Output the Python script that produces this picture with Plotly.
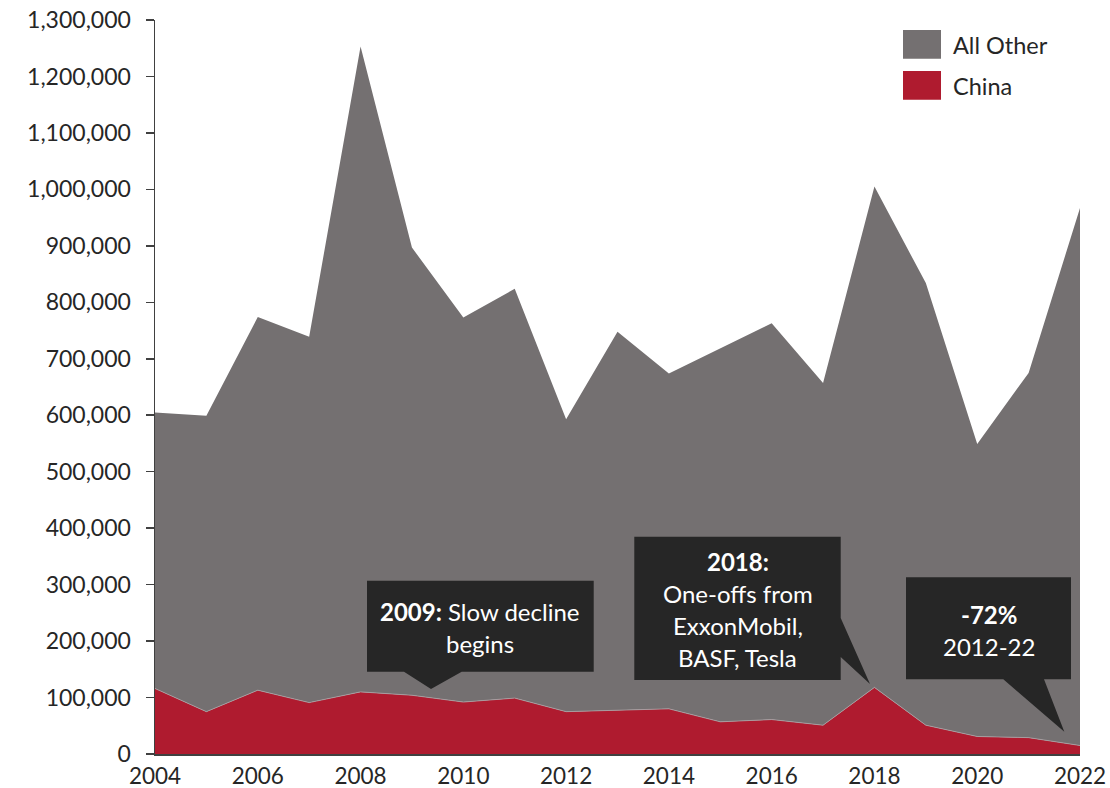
import plotly.graph_objects as go

# ---- data ----
years = list(range(2004, 2023))
china = [116000, 75000, 113000, 91000, 110000, 104000, 92000, 99000, 75000, 77000,
         80000, 57000, 61000, 51000, 118000, 51000, 31000, 29000, 15000]
all_other = [489000, 524000, 661000, 648000, 1143000, 793000, 681000, 725000, 518000, 671000,
             594000, 662000, 702000, 606000, 887000, 783000, 518000, 646000, 952000]
series_names = ["China", "All Other"]
x_ticks = list(range(2004, 2023, 2))
y_ticks = list(range(0, 1300001, 100000))
y_tick_labels = [f"{v:,}" for v in y_ticks]

GRAY = "#747071"
RED = "#AF1B2F"
BOX = "#262626"
TXT = "#262626"
FONT = "Lato"

# layout geometry (screen pixels); body margin is removed in the page
W, H = 1110, 788
L, R, T, B = 155, 1080, 20, 754


def X(px):
    return 2004 + (px - L) * 18 / (R - L)


def Y(py):
    return (B - py) * 1300000 / (B - T)


def PX(px):
    return (px - L) / (R - L)


def PY(py):
    return (B - py) / (B - T)


fig = go.Figure()
fig.add_trace(go.Scatter(x=years, y=china, name=series_names[0], stackgroup="s",
                         mode="lines", line=dict(width=0.8, color="#a9a2a4"),
                         fillcolor=RED, showlegend=False, hoverinfo="skip"))
fig.add_trace(go.Scatter(x=years, y=all_other, name=series_names[1], stackgroup="s",
                         mode="lines", line=dict(width=0, color=GRAY),
                         fillcolor=GRAY, showlegend=False, hoverinfo="skip"))

shapes = []
annotations = []


def path(points):
    d = "M " + " L ".join(f"{X(a)},{Y(b)}" for a, b in points) + " Z"
    return dict(type="path", path=d, xref="x", yref="y", fillcolor=BOX,
                line=dict(width=0), layer="above")


# callout 1
shapes.append(path([(367, 580.7), (593.7, 580.7), (593.7, 671.7), (461.7, 671.7),
                    (431, 689), (404, 671.7), (367, 671.7)]))
# callout 2
shapes.append(path([(634.3, 536.7), (840.7, 536.7), (840.7, 618), (870, 684),
                    (840.7, 657), (840.7, 680), (634.3, 680)]))
# callout 3
shapes.append(path([(906, 577.3), (1071, 577.3), (1071, 679.3), (1044, 679.3),
                    (1064.3, 731.7), (1003.3, 679.3), (906, 679.3)]))


def txt(px, py, s, size=24, color="white", anchor="center"):
    annotations.append(dict(x=PX(px), y=PY(py), xref="paper", yref="paper", text=s,
                            showarrow=False, xanchor=anchor, yanchor="middle",
                            font=dict(family=FONT, size=size, color=color)))


txt(480.4, 611, "<b>2009:</b> Slow decline")
txt(480.4, 643, "begins")
txt(737.5, 561, "<b>2018:</b>")
txt(737.5, 593, "One-offs from")
txt(737.5, 625, "ExxonMobil,")
txt(737.5, 657, "BASF, Tesla")
txt(988.5, 614, "<b>-72%</b>")
txt(988.5, 646, "2012-22")

# legend
shapes.append(dict(type="rect", xref="paper", yref="paper", x0=PX(903), x1=PX(941),
                   y0=PY(58.7), y1=PY(30), fillcolor=GRAY, line=dict(width=0)))
shapes.append(dict(type="rect", xref="paper", yref="paper", x0=PX(903), x1=PX(941),
                   y0=PY(99.7), y1=PY(71), fillcolor=RED, line=dict(width=0)))
txt(951, 45, series_names[1], size=23.5, color=TXT, anchor="left")
txt(951, 86, series_names[0], size=23.5, color=TXT, anchor="left")

fig.update_layout(
    width=W, height=H,
    margin=dict(l=L, r=W - R, t=T, b=H - B, pad=0, autoexpand=False),
    paper_bgcolor="white", plot_bgcolor="white",
    font=dict(family=FONT, size=23, color=TXT),
    shapes=shapes, annotations=annotations,
    showlegend=False,
    xaxis=dict(range=[2004, 2022], tickvals=x_ticks, ticktext=[str(v) for v in x_ticks],
               showgrid=False, zeroline=False, showline=True, linecolor="#404040",
               linewidth=1.5, ticks="", ticklabelstandoff=1, automargin=False,
               ticklabeloverflow="allow",
               tickfont=dict(family=FONT, size=22.5, color=TXT)),
    yaxis=dict(range=[0, 1300000], tickvals=y_ticks, ticktext=y_tick_labels,
               showgrid=False, zeroline=False, showline=True, linecolor="#404040",
               linewidth=1.5, ticks="outside", ticklen=8, tickwidth=1.5, tickcolor="#404040",
               ticklabelstandoff=10, automargin=False, ticklabeloverflow="allow",
               tickfont=dict(family=FONT, size=23, color=TXT)),
)

fig.write_html("out.html", config={"displayModeBar": False, "staticPlot": True},
               post_script="document.body.style.margin='0';document.body.style.overflow='hidden';")
